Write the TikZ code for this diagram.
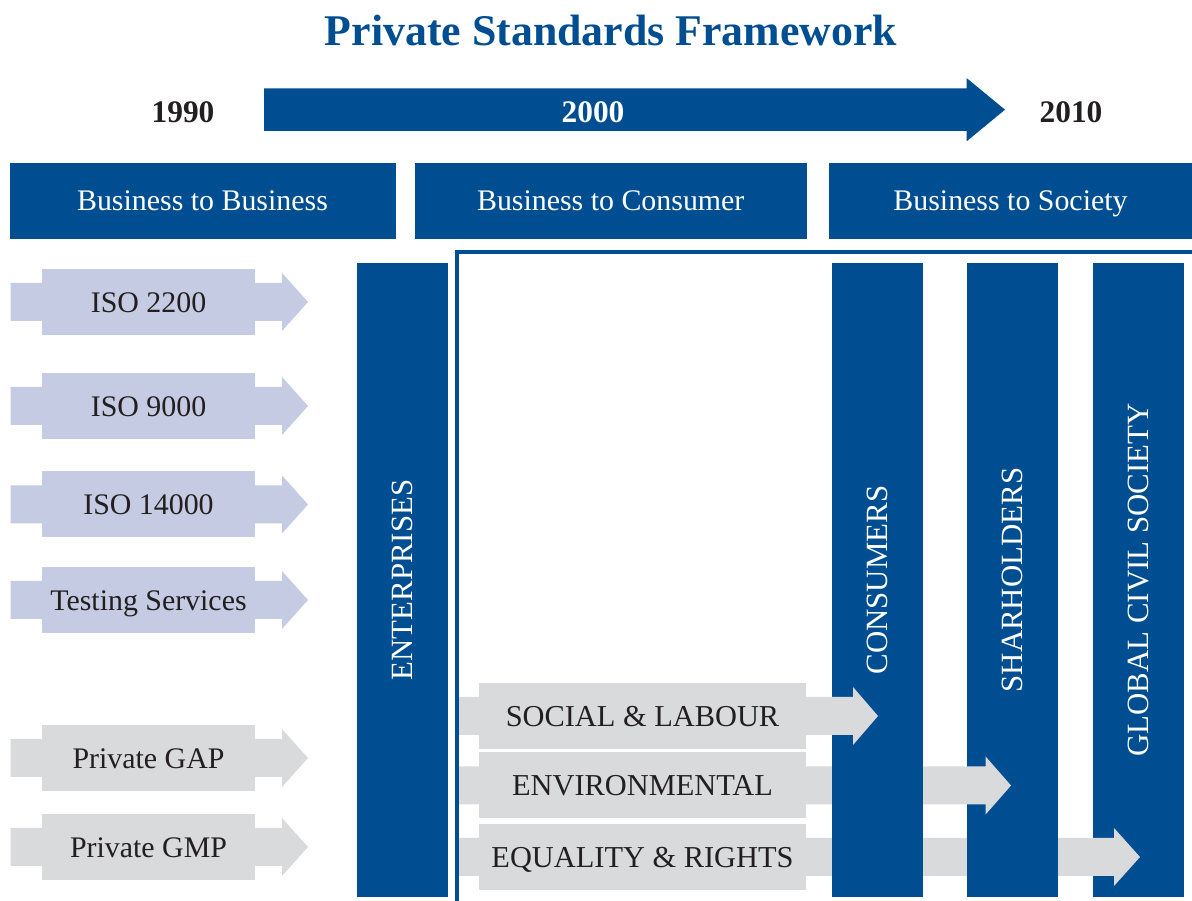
\documentclass[tikz,border=0pt]{standalone}
\usepackage{fontspec}
\setmainfont{Liberation Serif}
\definecolor{pblue}{RGB}{0,78,146}
\definecolor{plav}{RGB}{197,203,227}
\definecolor{pgrey}{RGB}{217,218,220}
\definecolor{ptext}{RGB}{35,31,32}
\begin{document}
\begin{tikzpicture}[line join=miter,
  bar/.style={fill=pblue,draw=none,inner sep=0pt,text=white,font=\fontsize{31}{31}\selectfont},
  headbox/.style={bar,font=\fontsize{30}{30}\selectfont,text height=20bp,text depth=0bp},
  year/.style={draw=none,inner sep=0pt,text=ptext,font=\bfseries\fontsize{31.5}{31.5}\selectfont},
  lavbox/.style={fill=plav,draw=none,inner sep=0pt,text=ptext,minimum width=213bp,minimum height=66bp,text height=21bp,text depth=0bp,font=\fontsize{30}{30}\selectfont},
  greybox/.style={lavbox,fill=pgrey},
  capbox/.style={greybox,minimum width=327bp,font=\fontsize{30.5}{30.5}\selectfont},
]
\useasboundingbox (0bp,0bp) rectangle (1192bp,901bp);
%%
\node (node_t) at (611bp,870bp) [draw=none,text=pblue,font=\bfseries\fontsize{44}{44}\selectfont] {Private Standards Framework};
%
\fill [pblue] (264bp,812.7bp) -- (966.5bp,812.7bp) -- (966.5bp,823bp) -- (1005bp,791.3bp) -- (966.5bp,759.6bp) -- (966.5bp,770bp) -- (264bp,770bp) -- cycle;
  \node (node_y0) at (183bp,789bp) [year] {1990};
  \node (node_y1) at (593bp,789bp) [year,text=white] {2000};
  \node (node_y2) at (1071bp,789bp) [year] {2010};
%
  \node (node_h0) at (202.5bp,700bp) [headbox,minimum width=386bp,minimum height=76bp] {Business to Business};
  \node (node_h1) at (610.75bp,700bp) [headbox,minimum width=392.5bp,minimum height=76bp] {Business to Consumer};
  \node (node_h2) at (1010.5bp,700bp) [headbox,minimum width=363bp,minimum height=76bp] {Business to Society};
%
\fill [plav] (10.7bp,618bp) -- (282bp,618bp) -- (282bp,628bp) -- (308bp,599bp) -- (282bp,570bp) -- (282bp,580bp) -- (10.7bp,580bp) -- cycle;
  \node (node_l0) at (148.5bp,599bp) [lavbox] {ISO 2200};
\fill [plav] (10.7bp,514bp) -- (282bp,514bp) -- (282bp,524bp) -- (308bp,495bp) -- (282bp,466bp) -- (282bp,476bp) -- (10.7bp,476bp) -- cycle;
  \node (node_l1) at (148.5bp,495bp) [lavbox] {ISO 9000};
\fill [plav] (10.7bp,415.5bp) -- (282bp,415.5bp) -- (282bp,425.5bp) -- (308bp,396.5bp) -- (282bp,367.5bp) -- (282bp,377.5bp) -- (10.7bp,377.5bp) -- cycle;
  \node (node_l2) at (148.5bp,396.5bp) [lavbox] {ISO 14000};
\fill [plav] (10.7bp,320bp) -- (282bp,320bp) -- (282bp,330bp) -- (308bp,301bp) -- (282bp,272bp) -- (282bp,282bp) -- (10.7bp,282bp) -- cycle;
  \node (node_l3) at (148.5bp,301bp) [lavbox] {Testing Services};
\fill [pgrey] (10.7bp,162bp) -- (282bp,162bp) -- (282bp,172bp) -- (308bp,143bp) -- (282bp,114bp) -- (282bp,124bp) -- (10.7bp,124bp) -- cycle;
  \node (node_l4) at (148.5bp,143bp) [greybox] {Private GAP};
\fill [pgrey] (10.7bp,73bp) -- (282bp,73bp) -- (282bp,83bp) -- (308bp,54bp) -- (282bp,25bp) -- (282bp,35bp) -- (10.7bp,35bp) -- cycle;
  \node (node_l5) at (148.5bp,54bp) [greybox] {Private GMP};
%
  \node (node_v0) at (402.5bp,321bp) [bar,rotate=90,minimum width=634bp,minimum height=91bp] {ENTERPRISES};
  \node (node_v3) at (1138.5bp,321bp) [bar,rotate=90,minimum width=634bp,minimum height=91bp] {GLOBAL CIVIL SOCIETY};
\fill [pgrey] (459bp,63bp) -- (1114bp,63bp) -- (1114bp,73bp) -- (1140bp,44bp) -- (1114bp,15bp) -- (1114bp,25bp) -- (459bp,25bp) -- cycle;
  \node (node_r2) at (642.5bp,44bp) [capbox] {EQUALITY \& RIGHTS};
  \node (node_v2) at (1012.5bp,321bp) [bar,rotate=90,minimum width=634bp,minimum height=91bp] {SHARHOLDERS};
\fill [pgrey] (459bp,134.5bp) -- (985.6bp,134.5bp) -- (985.6bp,144.5bp) -- (1011bp,115.5bp) -- (985.6bp,86.5bp) -- (985.6bp,96.5bp) -- (459bp,96.5bp) -- cycle;
  \node (node_r1) at (642.5bp,115.5bp) [capbox] {ENVIRONMENTAL};
  \node (node_v1) at (877.5bp,321bp) [bar,rotate=90,minimum width=634bp,minimum height=91bp] {CONSUMERS};
\fill [pgrey] (459bp,204bp) -- (853bp,204bp) -- (853bp,214bp) -- (878bp,185bp) -- (853bp,156bp) -- (853bp,166bp) -- (459bp,166bp) -- cycle;
  \node (node_r0) at (642.5bp,185bp) [capbox] {SOCIAL \& LABOUR};
%
\draw [pblue,line width=4bp] (1192bp,649bp) -- (457bp,649bp) -- (457bp,0bp);
%
\end{tikzpicture}
\end{document}
